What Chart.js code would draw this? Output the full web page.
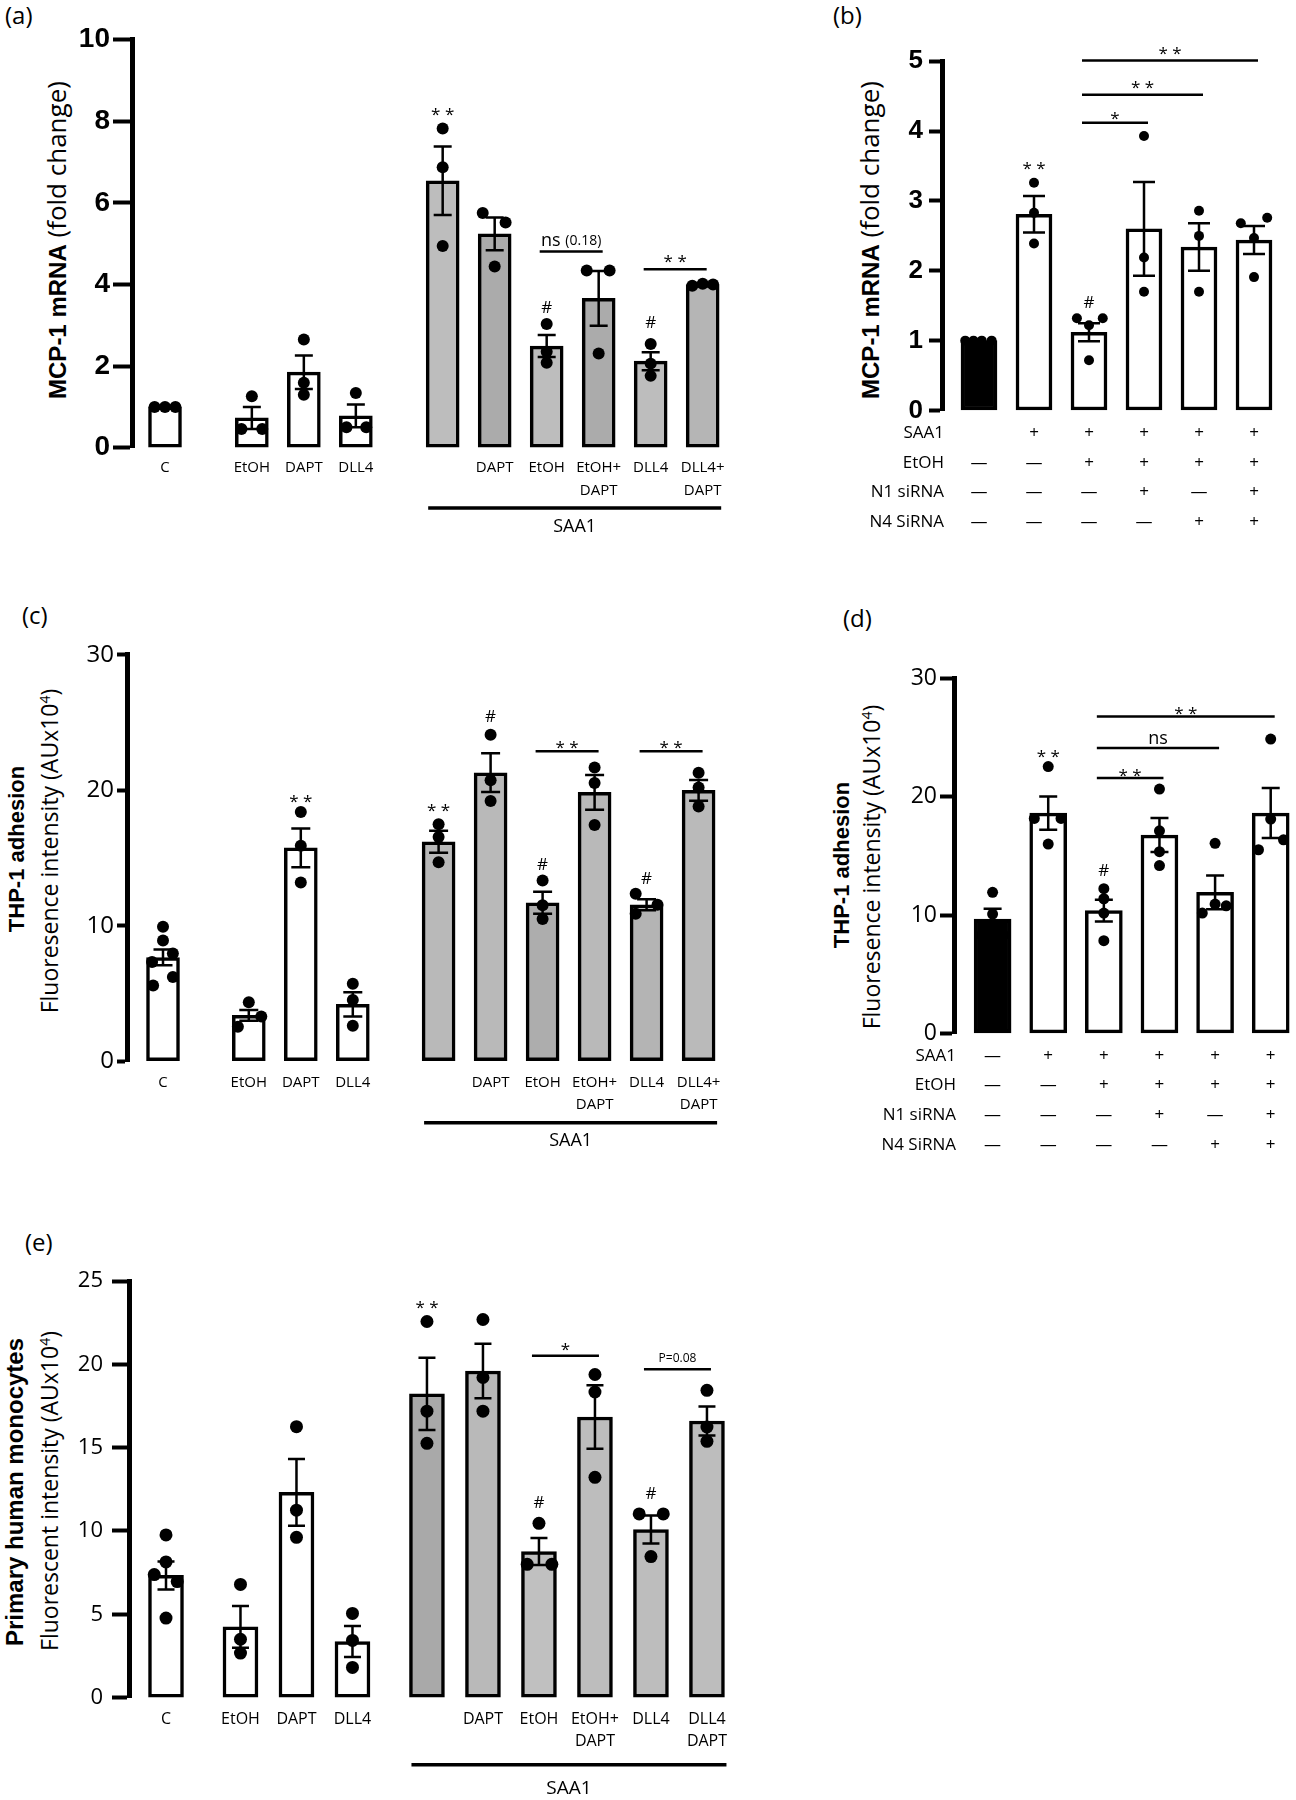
<!DOCTYPE html>
<html lang="en">
<head>
  <meta charset="UTF-8" />
  <title>MCP-1 / THP-1 adhesion panels</title>
  <script src="https://cdn.jsdelivr.net/npm/chart.js"></script>
  <style>
    body { margin: 0; background: #fff; width: 1296px; height: 1800px; position: relative; overflow: hidden; font-family: 'Open Sans', sans-serif; color: #000; }
    canvas { position: absolute; }
    .tag { position: absolute; font-size: 24px; line-height: 28px; }
    .yt { position: absolute; white-space: nowrap; transform: translate(-50%, -50%) rotate(-90deg); line-height: 1.2; }
    .big { font-size: 26px; }
    .big b { font-family: 'Liberation Sans', sans-serif; font-size: 24px; }
    .bold { font-family: 'Liberation Sans', sans-serif; font-weight: bold; font-size: 22px; }
    .bold.e { font-size: 24px; }
    .norm { font-size: 23px; }
    .norm sup { font-size: 14px; }
  </style>
</head>
<body>

<div class="tag" style="left:5px;top:1px">(a)</div>
<div class="tag" style="left:833px;top:1px">(b)</div>
<div class="tag" style="left:22px;top:601px">(c)</div>
<div class="tag" style="left:843px;top:604px">(d)</div>
<div class="tag" style="left:25px;top:1228px">(e)</div>

<div class="yt big" style="left:57px;top:240px"><b>MCP-1 mRNA</b> (fold change)</div>
<div class="yt big" style="left:870px;top:240px"><b>MCP-1 mRNA</b> (fold change)</div>

<div class="yt bold" style="left:17px;top:849px">THP-1 adhesion</div>
<div class="yt norm" style="left:50px;top:851px">Fluoresence intensity (AUx10<sup>4</sup>)</div>

<div class="yt bold" style="left:842px;top:865px">THP-1 adhesion</div>
<div class="yt norm" style="left:872px;top:867px">Fluoresence intensity (AUx10<sup>4</sup>)</div>

<div class="yt bold e" style="left:15px;top:1492px">Primary human monocytes</div>
<div class="yt norm" style="left:50px;top:1491px">Fluorescent intensity (AUx10<sup>4</sup>)</div>

<canvas id="chartA"></canvas>
<canvas id="chartB"></canvas>
<canvas id="chartC"></canvas>
<canvas id="chartD"></canvas>
<canvas id="chartE"></canvas>

<script>
  // ---- (a) MCP-1 mRNA, treatments with / without SAA1 ----
  const groupsA = [1, 3, 6];
  const labelsA = ['C', 'EtOH', 'DAPT', 'DLL4', '', 'DAPT', 'EtOH', ['EtOH+', 'DAPT'], 'DLL4', ['DLL4+', 'DAPT']];
  const meanA = [1.0, 0.73, 1.85, 0.78, 6.54, 5.24, 2.49, 3.66, 2.12, 4.0];
  const semA = [0, 0.27, 0.41, 0.28, 0.84, 0.40, 0.27, 0.67, 0.22, 0.02];
  const ptsA = [[1.0, 1.0, 1.0], [0.46, 1.26, 0.46], [2.65, 1.59, 1.30], [0.50, 1.34, 0.50], [7.82, 6.87, 4.94],
                [5.75, 5.52, 4.44], [3.03, 2.35, 2.08], [4.34, 4.34, 2.31], [2.54, 2.06, 1.76], [3.97, 4.02, 4.00]];
  const jitA = [[-0.2, 0, 0.2], [-0.2, 0, 0.2], [0, 0, 0], [-0.18, 0, 0.2], [0, 0, 0],
                [-0.23, 0.21, 0], [0, 0, 0], [-0.23, 0.21, 0], [0, 0, 0], [-0.2, 0, 0.2]];
  const fillA = ['#fff', '#fff', '#fff', '#fff', '#bdbdbd', '#ababab', '#bdbdbd', '#ababab', '#bdbdbd', '#b5b5b5'];
  const marksA = [{ at: 4, y: 8.25, t: '**' }, { at: 6, y: 3.42, t: '#' }, { at: 8, y: 3.04, t: '#' }];
  const bracketsA = [{ from: 6, to: 7, y: 4.81, ty: 5.06, t: 'ns', sub: '(0.18)' },
                     { from: 8, to: 9, y: 4.37, ty: 4.64, t: '**' }];

  // ---- (b) MCP-1 mRNA, Notch siRNA ----
  const meanB = [1.0, 2.81, 1.12, 2.60, 2.34, 2.44];
  const semB = [0, 0.26, 0.13, 0.67, 0.34, 0.20];
  const ptsB = [[1, 1, 1, 1], [3.26, 2.83, 2.39], [1.32, 1.22, 1.32, 0.72], [3.93, 2.19, 1.70], [2.86, 2.50, 1.70], [2.68, 2.76, 2.47, 1.91]];
  const jitB = [[-0.25, -0.1, 0.05, 0.23], [0, 0, 0], [-0.22, 0, 0.25, 0], [0, 0, 0], [0, 0, 0], [-0.24, 0.24, 0, 0]];
  const fillB = ['#000', '#fff', '#fff', '#fff', '#fff', '#fff'];
  const saa1B = ['', '+', '+', '+', '+', '+'];
  const etohB = ['—', '—', '+', '+', '+', '+'];
  const n1B = ['—', '—', '—', '+', '—', '+'];
  const n4B = ['—', '—', '—', '—', '+', '+'];
  const marksB = [{ at: 1, y: 3.51, t: '**' }, { at: 2, y: 1.54, t: '#' }];
  const bracketsB = [{ from: 2, to: 3, y: 4.12, ty: 4.23, t: '*' },
                     { from: 2, to: 4, y: 4.52, ty: 4.67, t: '**' },
                     { from: 2, to: 5, y: 5.01, ty: 5.16, t: '**' }];

  // ---- (c) THP-1 adhesion ----
  const meanC = [7.66, 3.38, 15.75, 4.2, 16.2, 21.3, 11.7, 19.85, 11.55, 20.0];
  const semC = [0.58, 0.40, 1.43, 0.90, 0.81, 1.43, 0.82, 1.28, 0.40, 0.76];
  const ptsC = [[9.92, 8.92, 7.96, 7.32, 6.22, 5.59], [4.35, 3.30, 2.54], [18.4, 15.9, 13.2], [5.72, 4.52, 2.62],
                [17.49, 16.55, 14.69], [24.10, 20.75, 19.22], [13.35, 11.52, 10.50], [21.69, 20.54, 17.44],
                [12.36, 11.56, 10.88], [21.30, 20.21, 18.81]];
  const jitC = [[0, 0, 0.19, -0.21, 0.19, -0.19], [0, 0.24, -0.21], [0, 0, 0], [0, 0, 0], [0, 0, 0],
                [0, 0, 0], [0, 0, 0], [0, 0, 0], [-0.21, 0.21, -0.21], [0, 0, 0]];
  const fillC = ['#fff', '#fff', '#fff', '#fff', '#b9b9b9', '#b9b9b9', '#adadad', '#b9b9b9', '#b4b4b4', '#bababa'];
  const marksC = [{ at: 2, y: 19.4, t: '**' }, { at: 4, y: 18.71, t: '**' }, { at: 5, y: 25.37, t: '#' },
                  { at: 6, y: 14.44, t: '#' }, { at: 8, y: 13.42, t: '#' }];
  const bracketsC = [{ from: 6, to: 7, y: 22.88, ty: 23.39, t: '**' },
                     { from: 8, to: 9, y: 22.88, ty: 23.39, t: '**' }];

  // ---- (d) THP-1 adhesion, Notch siRNA ----
  const meanD = [9.66, 18.62, 10.38, 16.76, 11.92, 18.62];
  const semD = [0.87, 1.40, 0.92, 1.44, 1.42, 2.11];
  const ptsD = [[11.92, 10.08, 8.3, 8.3], [22.55, 18.17, 18.17, 16.0], [12.23, 11.38, 10.17, 7.84],
                [20.65, 17.12, 15.36, 14.18], [16.06, 10.93, 10.17, 10.78], [24.87, 18.11, 16.36, 15.52]];
  const jitD = [[0, 0, -0.2, 0.2], [0, -0.25, 0.23, 0], [0, 0, 0, 0], [0, 0, 0, 0], [0, 0, -0.23, 0.2], [0, 0, 0.23, -0.22]];
  const fillD = ['#000', '#fff', '#fff', '#fff', '#fff', '#fff'];
  const saa1D = ['—', '+', '+', '+', '+', '+'];
  const etohD = ['—', '—', '+', '+', '+', '+'];
  const n1D = ['—', '—', '—', '+', '—', '+'];
  const n4D = ['—', '—', '—', '—', '+', '+'];
  const marksD = [{ at: 1, y: 23.69, t: '**' }, { at: 2, y: 13.70, t: '#' }];
  const bracketsD = [{ from: 2, to: 3, y: 21.58, ty: 22.09, t: '**' },
                     { from: 2, to: 4, y: 24.12, ty: 24.87, t: 'ns' },
                     { from: 2, to: 5, y: 26.77, ty: 27.29, t: '**' }];

  // ---- (e) primary human monocytes ----
  const labelsE = ['C', 'EtOH', 'DAPT', 'DLL4', '', 'DAPT', 'EtOH', ['EtOH+', 'DAPT'], 'DLL4', ['DLL4', 'DAPT']];
  const meanE = [7.33, 4.24, 12.32, 3.36, 18.23, 19.6, 8.77, 16.84, 10.09, 16.6];
  const semE = [0.84, 1.25, 2.0, 0.93, 2.17, 1.63, 0.81, 1.9, 0.84, 0.87];
  const ptsE = [[9.76, 8.14, 7.38, 6.96, 4.77], [6.79, 3.50, 2.67], [16.26, 11.25, 9.62], [5.05, 3.43, 1.81],
                [22.57, 17.19, 15.26], [22.69, 19.21, 17.19], [10.46, 8.0, 8.0], [19.39, 18.34, 13.22],
                [11.02, 11.02, 8.46], [18.44, 16.24, 15.38]];
  const jitE = [[0, 0, -0.21, 0.2, 0], [0, 0, 0], [0, 0, 0], [0, 0, 0], [0, 0, 0],
                [0, 0, 0], [0, -0.21, 0.23], [0, 0, 0], [-0.21, 0.22, 0], [0, 0, 0]];
  const fillE = ['#fff', '#fff', '#fff', '#fff', '#a9a9a9', '#b9b9b9', '#c0c0c0', '#bdbdbd', '#bdbdbd', '#bdbdbd'];
  const marksE = [{ at: 4, y: 23.61, t: '**' }, { at: 6, y: 11.67, t: '#' }, { at: 8, y: 12.18, t: '#' }];
  const bracketsE = [{ from: 6, to: 7, y: 20.52, ty: 21.06, t: '*' },
                     { from: 8, to: 9, y: 19.71, ty: 20.36, t: 'P=0.08', size: 12 }];

  const OPEN = "'Open Sans', sans-serif";
  const tableRows = ['SAA1', 'EtOH', 'N1 siRNA', 'N4 SiRNA'];

  // bar centres in "slot" units, groups separated by a wider gap
  function slotPositions(groups, gap) {
    const pos = [];
    let p = 0;
    groups.forEach((n, g) => {
      if (g > 0) p += gap - 1;
      for (let k = 0; k < n; k++) { pos.push(p); p++; }
    });
    return pos;
  }

  function drawExtras(ch, c, pos) {
    const ctx = ch.ctx, xs = ch.scales.x, ys = ch.scales.y;
    const px = i => xs.getPixelForValue(pos[i]);
    const py = v => ys.getPixelForValue(v);
    ctx.save();
    ctx.strokeStyle = '#000';
    ctx.fillStyle = '#000';

    // SEM error bars
    ctx.lineWidth = 2.5;
    c.sem.forEach((s, i) => {
      if (!s) return;
      const x = px(i), hi = py(c.mean[i] + s), lo = py(c.mean[i] - s), w = c.cap / 2;
      ctx.beginPath();
      ctx.moveTo(x, hi); ctx.lineTo(x, lo);
      ctx.moveTo(x - w, hi); ctx.lineTo(x + w, hi);
      ctx.moveTo(x - w, lo); ctx.lineTo(x + w, lo);
      ctx.stroke();
    });

    ctx.textAlign = 'center';
    ctx.textBaseline = 'middle';
    const label = (t, x, y, size) => {
      const star = t.includes('*');
      ctx.font = size + 'px ' + OPEN;
      ctx.fillText(star ? t.split('').join(' ') : t, x, y + (star ? size * 0.22 : 0));
    };

    c.marks.forEach(m => label(m.t, px(m.at), py(m.y), 17));

    ctx.lineWidth = 2.5;
    c.brackets.forEach(b => {
      const x1 = px(b.from) - 7, x2 = px(b.to) + 4, y = py(b.y);
      ctx.beginPath(); ctx.moveTo(x1, y); ctx.lineTo(x2, y); ctx.stroke();
      const mx = (x1 + x2) / 2;
      if (b.sub) {
        ctx.font = '18px ' + OPEN;
        const w1 = ctx.measureText(b.t + ' ').width;
        ctx.font = '14px ' + OPEN;
        const w2 = ctx.measureText(b.sub).width;
        const x0 = mx - (w1 + w2) / 2;
        ctx.textAlign = 'left';
        ctx.font = '18px ' + OPEN;
        ctx.fillText(b.t + ' ', x0, py(b.ty));
        ctx.font = '14px ' + OPEN;
        ctx.fillText(b.sub, x0 + w1, py(b.ty));
        ctx.textAlign = 'center';
      } else {
        label(b.t, mx, py(b.ty), b.size || (b.t === 'ns' ? 18 : 17));
      }
    });

    // SAA1 underline below the stimulated group
    if (c.under) {
      const u = c.under, half = c.barW / 2, base = py(0);
      const x1 = px(u.from) - half + 2, x2 = px(u.to) + half + 2;
      ctx.lineWidth = 3.5;
      ctx.beginPath(); ctx.moveTo(x1, base + u.dy); ctx.lineTo(x2, base + u.dy); ctx.stroke();
      ctx.font = u.size + 'px ' + OPEN;
      ctx.fillText('SAA1', (x1 + x2) / 2, base + u.ty);
    }

    // row names of the +/- table
    if (c.rows) {
      ctx.textAlign = 'right';
      ctx.font = c.xFont.size + 'px ' + OPEN;
      const lh = c.xFont.size * c.xFont.lineHeight;
      c.rows.forEach((r, k) => ctx.fillText(r, xs.left + 2, xs.top + c.xPad + lh / 2 + k * lh));
    }
    ctx.restore();
  }

  function makePanel(c) {
    const pos = slotPositions(c.groups, c.gap);
    const [bx, by, bw, bh] = c.box;
    const cv = document.getElementById(c.id);
    cv.width = bw; cv.height = bh;
    cv.style.left = bx + 'px'; cv.style.top = by + 'px';

    const xMin = -(c.firstBarX - c.axisX) / c.spacing;
    const xMax = xMin + (c.areaRight - c.axisX) / c.spacing;

    const dots = [];
    c.pts.forEach((arr, i) => arr.forEach((v, k) => dots.push({ x: pos[i] + c.jit[i][k], y: v })));

    return new Chart(cv, {
      type: 'bar',
      data: {
        datasets: [
          { type: 'scatter', data: dots, pointRadius: c.dot, pointBackgroundColor: '#000', pointBorderColor: '#000',
            pointBorderWidth: 0, order: 0, clip: false },
          { type: 'bar', data: c.mean.map((m, i) => ({ x: pos[i], y: m })), backgroundColor: c.fill,
            borderColor: '#000', borderWidth: 3.5, borderSkipped: false, barThickness: c.barW, order: 1, clip: false }
        ]
      },
      options: {
        responsive: false,
        animation: false,
        devicePixelRatio: 1,
        events: [],
        layout: { padding: { left: 0, top: c.yTop - by, right: bx + bw - c.areaRight, bottom: 0 } },
        plugins: { legend: { display: false }, tooltip: { enabled: false } },
        scales: {
          x: {
            type: 'linear', min: xMin, max: xMax, offset: false, bounds: 'data',
            afterBuildTicks: s => { s.ticks = pos.map(v => ({ value: v })); },
            afterFit: s => { s.height = by + bh - c.y0; },
            grid: { display: false, drawTicks: false, offset: false },
            border: { display: false },
            ticks: { autoSkip: false, maxRotation: 0, minRotation: 0, padding: c.xPad, color: '#000',
                     font: c.xFont, callback: (v, i) => c.labels[i] }
          },
          y: {
            min: 0, max: c.yMax,
            afterFit: s => { s.width = c.axisX - bx; },
            ticks: { stepSize: c.yStep, padding: c.yPad, color: '#000', font: c.yFont },
            grid: { drawOnChartArea: false, tickLength: c.tickLen, tickWidth: 4, tickColor: '#000' },
            border: { color: '#000', width: 5 }
          }
        }
      },
      plugins: [{ id: 'extras', afterDatasetsDraw: ch => drawExtras(ch, c, pos) }]
    });
  }

  const boldY = { family: "'Liberation Sans', sans-serif", weight: 'bold' };

  makePanel({
    id: 'chartA', box: [0, 0, 780, 545], axisX: 132, yTop: 39.6, y0: 447.7, areaRight: 745,
    firstBarX: 165, spacing: 52, groups: groupsA, gap: 1.67, barW: 33, cap: 18, dot: 6,
    labels: labelsA, mean: meanA, sem: semA, pts: ptsA, jit: jitA, fill: fillA,
    marks: marksA, brackets: bracketsA, under: { from: 4, to: 9, dy: 60.3, ty: 79.3, size: 18 },
    yMax: 10, yStep: 2, yFont: { ...boldY, size: 28 }, yPad: 3, tickLen: 19,
    xFont: { family: OPEN, size: 15, lineHeight: 1.5 }, xPad: 9
  });

  makePanel({
    id: 'chartB', box: [800, 0, 496, 545], axisX: 942, yTop: 61.3, y0: 410.5, areaRight: 1290,
    firstBarX: 979, spacing: 55, groups: [6], gap: 1, barW: 36, cap: 22, dot: 5,
    labels: saa1B.map((s, i) => [s, etohB[i], n1B[i], n4B[i]]), rows: tableRows,
    mean: meanB, sem: semB, pts: ptsB, jit: jitB, fill: fillB, marks: marksB, brackets: bracketsB,
    yMax: 5, yStep: 1, yFont: { ...boldY, size: 26 }, yPad: 6, tickLen: 13,
    xFont: { family: OPEN, size: 17, lineHeight: 29.5 / 17 }, xPad: 8
  });

  makePanel({
    id: 'chartC', box: [0, 597, 780, 560], axisX: 127, yTop: 654.9, y0: 1061.2, areaRight: 745,
    firstBarX: 163, spacing: 52, groups: groupsA, gap: 1.65, barW: 33, cap: 19, dot: 6,
    labels: labelsA, mean: meanC, sem: semC, pts: ptsC, jit: jitC, fill: fillC,
    marks: marksC, brackets: bracketsC, under: { from: 4, to: 9, dy: 61.6, ty: 79.8, size: 18 },
    yMax: 30, yStep: 10, yFont: { family: OPEN, size: 24 }, yPad: 3, tickLen: 10,
    xFont: { family: OPEN, size: 15, lineHeight: 1.5 }, xPad: 10
  });

  makePanel({
    id: 'chartD', box: [800, 597, 496, 570], axisX: 954, yTop: 678.4, y0: 1033.4, areaRight: 1294,
    firstBarX: 993, spacing: 56.2, groups: [6], gap: 1, barW: 37, cap: 18, dot: 5.5,
    labels: saa1D.map((s, i) => [s, etohD[i], n1D[i], n4D[i]]), rows: tableRows,
    mean: meanD, sem: semD, pts: ptsD, jit: jitD, fill: fillD, marks: marksD, brackets: bracketsD,
    yMax: 30, yStep: 10, yFont: { family: OPEN, size: 23 }, yPad: 3, tickLen: 14,
    xFont: { family: OPEN, size: 17, lineHeight: 29.8 / 17 }, xPad: 7.5
  });

  makePanel({
    id: 'chartE', box: [0, 1194, 780, 606], axisX: 129, yTop: 1281, y0: 1697.6, areaRight: 745,
    firstBarX: 166, spacing: 56, groups: groupsA, gap: 1.33, barW: 35, cap: 17, dot: 6.5,
    labels: labelsE, mean: meanE, sem: semE, pts: ptsE, jit: jitE, fill: fillE,
    marks: marksE, brackets: bracketsE, under: { from: 4, to: 9, dy: 67.2, ty: 91.4, size: 19 },
    yMax: 25, yStep: 5, yFont: { family: OPEN, size: 22 }, yPad: 9, tickLen: 17,
    xFont: { family: OPEN, size: 16, lineHeight: 1.35 }, xPad: 11
  });
</script>

</body>
</html>
